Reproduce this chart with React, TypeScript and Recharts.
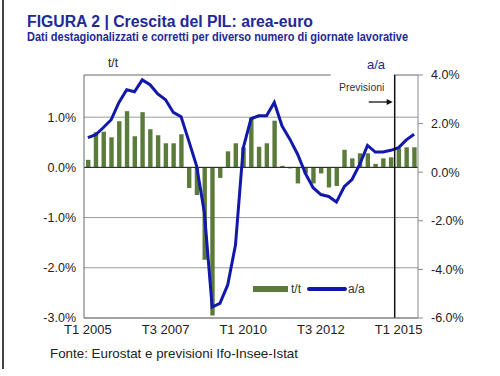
import {
  Bar,
  ComposedChart,
  CartesianGrid,
  Line,
  ReferenceLine,
  XAxis,
  YAxis,
} from "recharts";

const QUARTERS = [
  "T1 2005", "T2 2005", "T3 2005", "T4 2005",
  "T1 2006", "T2 2006", "T3 2006", "T4 2006",
  "T1 2007", "T2 2007", "T3 2007", "T4 2007",
  "T1 2008", "T2 2008", "T3 2008", "T4 2008",
  "T1 2009", "T2 2009", "T3 2009", "T4 2009",
  "T1 2010", "T2 2010", "T3 2010", "T4 2010",
  "T1 2011", "T2 2011", "T3 2011", "T4 2011",
  "T1 2012", "T2 2012", "T3 2012", "T4 2012",
  "T1 2013", "T2 2013", "T3 2013", "T4 2013",
  "T1 2014", "T2 2014", "T3 2014", "T4 2014",
  "T1 2015", "T2 2015", "T3 2015",
];

// t/t, % (left axis)
const TT = [
  0.15, 0.7, 0.71, 0.6, 0.92, 1.12, 0.62, 1.1, 0.76, 0.64, 0.48, 0.48,
  0.66, -0.41, -0.55, -1.84, -2.95, -0.21, 0.32, 0.48, 0.4, 0.98, 0.41, 0.48,
  0.93, 0.03, -0.02, -0.32, -0.12, -0.32, -0.12, -0.4, -0.37, 0.35, 0.18, 0.28,
  0.28, 0.07, 0.18, 0.2, 0.38, 0.4, 0.4,
];

// a/a, % (right axis)
const AA = [
  1.42, 1.54, 1.84, 2.16, 2.87, 3.39, 3.31, 3.8, 3.6, 3.22, 2.98, 2.46,
  2.28, 1.28, 0.25, -1.67, -5.55, -5.4, -4.64, -3.0, 1.0, 2.2, 2.32, 2.32,
  2.87, 1.9, 1.36, 0.74, -0.05, -0.64, -0.92, -1.0, -1.23, -0.6, -0.3, 0.32,
  1.1, 0.83, 0.83, 0.9, 1.01, 1.33, 1.56,
];

const LEFT_TICKS = [-3, -2, -1, 0, 1];
const RIGHT_TICKS = [-6, -4, -2, 0, 2, 4];
const FORECAST_START = "T1 2015";

const NAVY = "#22289a";
const GREEN = "#5b7b3b";
const BLUE = "#1118aa";

const data = QUARTERS.map((q, i) => ({ q, tt: TT[i], aa: AA[i] }));

const pct = (v: number) => `${v.toFixed(1)}%`;

function ForecastLabel({ viewBox }: any) {
  const x = viewBox.x;
  const y = viewBox.y;
  return (
    <g>
      <rect x={x - 64} y={y - 3} width={63} height={6} fill="#fff" />
      <text x={x - 33} y={y + 16} textAnchor="middle" fontSize={10.5} fill="#333">
        Previsioni
      </text>
      <line x1={x - 26} y1={y + 27} x2={x - 6} y2={y + 27} stroke="#111" strokeWidth={1.3} />
      <path d={`M${x - 2},${y + 27} L${x - 8},${y + 24} L${x - 8},${y + 30} Z`} fill="#111" />
    </g>
  );
}

export default function App() {
  return (
    <div
      style={{
        position: "absolute",
        left: 0,
        top: 0,
        width: 500,
        height: 376,
        background: "#fff",
        fontFamily: "'Liberation Sans', Arial, sans-serif",
      }}
    >
      <ComposedChart
        width={500}
        height={376}
        data={data}
        margin={{ top: 75, right: 0, bottom: 38, left: 0 }}
      >
        <CartesianGrid vertical={false} stroke="#9a9a9a" />
        <XAxis
          dataKey="q"
          interval={9}
          height={20}
          tickLine={false}
          tickSize={0}
          tickMargin={7}
          axisLine={{ stroke: "#777" }}
          tick={{ fontSize: 13, fill: "#222" }}
        />
        <YAxis
          domain={[-3, 1.84]}
          ticks={LEFT_TICKS}
          allowDataOverflow
          width={84}
          tickFormatter={pct}
          tickLine={false}
          tickSize={4}
          tickMargin={4}
          axisLine={{ stroke: "#666" }}
          tick={{ fontSize: 12.5, fill: "#222" }}
        />
        <YAxis
          yAxisId="right"
          orientation="right"
          domain={[-6, 4]}
          ticks={RIGHT_TICKS}
          width={82}
          tickFormatter={pct}
          tickSize={5}
          tickMargin={8}
          tickLine={{ stroke: "#888" }}
          axisLine={{ stroke: "#888" }}
          tick={{ fontSize: 12.5, fill: "#222" }}
        />
        <ReferenceLine y={1.84} stroke="#9a9a9a" />
        <Bar dataKey="tt" fill={GREEN} barSize={4.4} isAnimationActive={false} />
        <ReferenceLine y={0} stroke="#222" />
        <Line
          yAxisId="right"
          dataKey="aa"
          type="linear"
          stroke={BLUE}
          strokeWidth={3}
          dot={false}
          isAnimationActive={false}
        />
        <ReferenceLine
          x={FORECAST_START}
          position="start"
          stroke="#111"
          strokeWidth={1.5}
          label={<ForecastLabel />}
        />
      </ComposedChart>
      <svg
        width={500}
        height={376}
        style={{ position: "absolute", left: 0, top: 0, pointerEvents: "none" }}
      >
        <rect x={2} y={0} width={2} height={369} fill="#444" />
        <text x={27} y={27} fontSize={16} fontWeight="bold" fill={NAVY} textLength={286} lengthAdjust="spacingAndGlyphs">
          FIGURA 2 | Crescita del PIL: area-euro
        </text>
        <text x={27} y={41} fontSize={12} fontWeight="bold" fill={NAVY} textLength={381} lengthAdjust="spacingAndGlyphs">
          Dati destagionalizzati e corretti per diverso numero di giornate lavorative
        </text>
        <text x={108} y={67} fontSize={12} fill="#222">t/t</text>
        <text x={367} y={69} fontSize={13} fill={NAVY}>a/a</text>
        {/* legend */}
        <rect x={253} y={286} width={35} height={6} fill={GREEN} />
        <text x={291} y={293} fontSize={12} fill="#333">t/t</text>
        <line x1={309} y1={289} x2={345} y2={289} stroke={BLUE} strokeWidth={4} strokeLinecap="round" />
        <text x={348} y={293} fontSize={12} fill="#333">a/a</text>
        <text x={50} y={358} fontSize={13} fill="#222" textLength={248} lengthAdjust="spacingAndGlyphs">
          Fonte: Eurostat e previsioni Ifo-Insee-Istat
        </text>
      </svg>
    </div>
  );
}
